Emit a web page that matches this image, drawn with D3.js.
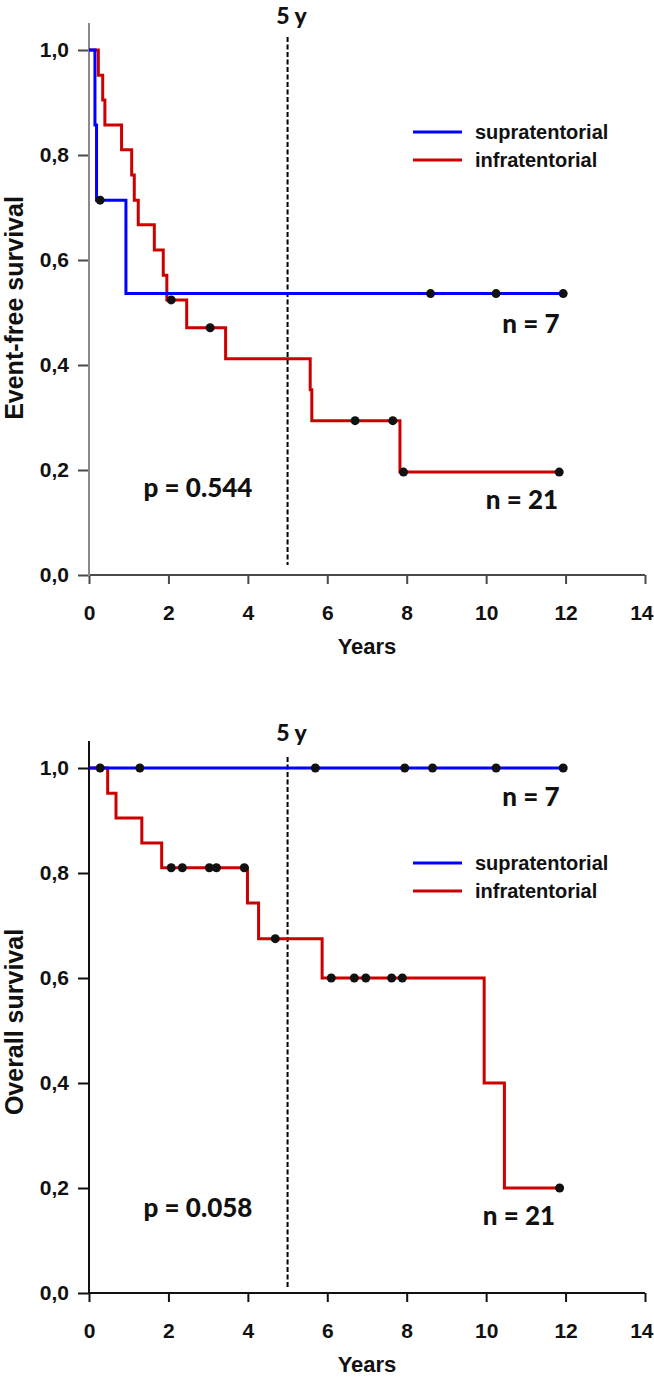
<!DOCTYPE html>
<html>
<head>
<meta charset="utf-8">
<script src="https://cdn.jsdelivr.net/npm/d3@7"></script>
<style>
  html, body { margin: 0; padding: 0; background: #fff; }
  svg { display: block; }
  text { font-family: "Liberation Sans", Arial, sans-serif; font-weight: bold; fill: #111; }
  .anno { font-family: Lato, "Open Sans", sans-serif; font-weight: 900; }
</style>
</head>
<body>
<script>
// ---------- data ----------
const xTickValues = [0, 2, 4, 6, 8, 10, 12, 14];
const xTickLabels = ["0", "2", "4", "6", "8", "10", "12", "14"];
const yTickValues = [0, 0.2, 0.4, 0.6, 0.8, 1.0];
const yTickLabels = ["0,0", "0,2", "0,4", "0,6", "0,8", "1,0"];
const seriesNames = ["supratentorial", "infratentorial"];

// Event-free survival, supratentorial (n = 7)
const efsSupraTime = [0, 0.15, 0.19, 0.93, 11.94];
const efsSupraSurv = [1.0, 0.857, 0.714, 0.536, 0.536];
const efsSupraCensTime = [0.28, 8.6, 10.25, 11.94];
const efsSupraCensSurv = [0.714, 0.536, 0.536, 0.536];

// Event-free survival, infratentorial (n = 21)
const efsInfraTime = [0, 0.235, 0.345, 0.40, 0.82, 1.075, 1.14, 1.24, 1.645, 1.87, 1.96, 2.46, 3.44, 5.57, 5.61, 7.83, 11.84];
const efsInfraSurv = [1.0, 0.952, 0.905, 0.857, 0.810, 0.762, 0.714, 0.667, 0.619, 0.571, 0.524, 0.471, 0.412, 0.353, 0.294, 0.196, 0.196];
const efsInfraCensTime = [2.07, 3.05, 6.70, 7.65, 7.92, 11.84];
const efsInfraCensSurv = [0.524, 0.471, 0.294, 0.294, 0.196, 0.196];

// Overall survival, supratentorial (n = 7)
const osSupraTime = [0, 11.94];
const osSupraSurv = [1.0, 1.0];
const osSupraCensTime = [0.28, 1.28, 5.7, 7.95, 8.65, 10.25, 11.94];
const osSupraCensSurv = [1, 1, 1, 1, 1, 1, 1];

// Overall survival, infratentorial (n = 21)
const osInfraTime = [0, 0.47, 0.68, 1.33, 1.83, 3.99, 4.27, 5.87, 9.95, 10.46, 11.85];
const osInfraSurv = [1.0, 0.952, 0.905, 0.857, 0.810, 0.743, 0.675, 0.600, 0.400, 0.200, 0.200];
const osInfraCensTime = [2.07, 2.35, 3.03, 3.21, 3.91, 4.69, 6.10, 6.68, 6.97, 7.62, 7.89, 11.85];
const osInfraCensSurv = [0.81, 0.81, 0.81, 0.81, 0.81, 0.675, 0.6, 0.6, 0.6, 0.6, 0.6, 0.2];

const panelTitles = ["Event-free survival", "Overall survival"];
const pValues = ["p = 0.544", "p = 0.058"];
const nLabels = ["n = 7", "n = 21"];
const refYear = 5;
const refLabel = "5 y";
const xTitle = "Years";

// ---------- drawing ----------
const W = 654, H = 1378;
const svg = d3.select("body").append("svg").attr("width", W).attr("height", H);

const colors = ["#0000ff", "#cc0000"];

const panels = [
  {
    top: 50, bottom: 575, axisColor: ["#8a8a8a", "#4a4a4a"],
    title: panelTitles[0], p: pValues[0],
    curves: [
      { t: efsSupraTime, s: efsSupraSurv, ct: efsSupraCensTime, cs: efsSupraCensSurv },
      { t: efsInfraTime, s: efsInfraSurv, ct: efsInfraCensTime, cs: efsInfraCensSurv }
    ],
    refTop: 37, refBottom: 565, refLabelY: 24,
    legendY: 132,
    pPos: [198, 497], n7Pos: [531, 333], n21Pos: [522, 509],
    titleY: 308
  },
  {
    top: 768, bottom: 1293, axisColor: ["#111", "#111"],
    title: panelTitles[1], p: pValues[1],
    curves: [
      { t: osSupraTime, s: osSupraSurv, ct: osSupraCensTime, cs: osSupraCensSurv },
      { t: osInfraTime, s: osInfraSurv, ct: osInfraCensTime, cs: osInfraCensSurv }
    ],
    refTop: 757, refBottom: 1287, refLabelY: 741,
    legendY: 863,
    pPos: [198, 1217], n7Pos: [531, 806], n21Pos: [519, 1225],
    titleY: 1022
  }
];

const x = d3.scaleLinear().domain([0, 14]).range([89, 645]);

panels.forEach(P => {
  const y = d3.scaleLinear().domain([0, 1]).range([P.bottom, P.top]);
  const g = svg.append("g");

  // axes
  const yAxis = d3.axisLeft(y).tickValues(yTickValues)
    .tickFormat((d, i) => yTickLabels[i]).tickSize(11).tickPadding(9).tickSizeOuter(0);
  const ya = g.append("g").attr("transform", `translate(${x(0)},0)`).call(yAxis);
  ya.select(".domain").remove();
  ya.selectAll(".tick line").attr("stroke", P.axisColor[1]).attr("stroke-width", 2);
  ya.selectAll(".tick text").style("font-size", "21px").attr("fill", "#111");

  const xAxis = d3.axisBottom(x).tickValues(xTickValues)
    .tickFormat((d, i) => xTickLabels[i]).tickSize(9).tickPadding(21).tickSizeOuter(0);
  const xa = g.append("g").attr("transform", `translate(0,${y(0)})`).call(xAxis);
  xa.select(".domain").remove();
  xa.selectAll(".tick line").attr("stroke", P.axisColor[1]).attr("stroke-width", 2);
  xa.selectAll(".tick text").style("font-size", "21px").attr("fill", "#111");
  // last label sits at the right edge: keep it inside the picture
  xa.selectAll(".tick text").filter((d, i, n) => i === n.length - 1)
    .attr("text-anchor", "end").attr("x", 653 - x(14));

  // axis lines
  g.append("line").attr("x1", x(0)).attr("x2", x(14))
    .attr("y1", y(0)).attr("y2", y(0))
    .attr("stroke", P.axisColor[1]).attr("stroke-width", 2);
  g.append("line").attr("x1", x(0)).attr("x2", x(0))
    .attr("y1", P.top - 27).attr("y2", y(0) + 1)
    .attr("stroke", P.axisColor[0]).attr("stroke-width", 2);

  // titles
  g.append("text").attr("transform", `translate(23,${P.titleY}) rotate(-90)`)
    .attr("text-anchor", "middle").style("font-size", "25px").text(P.title);
  g.append("text").attr("x", x(7)).attr("y", y(0) + 79)
    .attr("text-anchor", "middle").style("font-size", "22px").text(xTitle);

  // reference line at 5 y
  g.append("line").attr("x1", x(refYear)).attr("x2", x(refYear))
    .attr("y1", P.refTop).attr("y2", P.refBottom)
    .attr("stroke", "#000").attr("stroke-width", 2).attr("stroke-dasharray", "5,2.5");
  g.append("text").attr("class", "anno").attr("x", x(refYear) + 4).attr("y", P.refLabelY)
    .attr("text-anchor", "middle").style("font-size", "23px").text(refLabel);

  // curves (infratentorial below, supratentorial on top)
  const line = d3.line().x(d => x(d[0])).y(d => y(d[1])).curve(d3.curveStepAfter);
  [1, 0].forEach(k => {
    const c = P.curves[k];
    const pts = c.t.map((t, i) => [t, c.s[i]]);
    g.append("path").attr("d", line(pts)).attr("fill", "none")
      .attr("stroke", colors[k]).attr("stroke-width", 3);
  });
  [1, 0].forEach(k => {
    const c = P.curves[k];
    g.selectAll(null).data(c.ct.map((t, i) => [t, c.cs[i]])).enter()
      .append("circle").attr("cx", d => x(d[0])).attr("cy", d => y(d[1]))
      .attr("r", 4.5).attr("fill", "#111");
  });

  // legend
  seriesNames.forEach((nm, k) => {
    const ly = P.legendY + k * 28;
    g.append("line").attr("x1", 413).attr("x2", 462).attr("y1", ly).attr("y2", ly)
      .attr("stroke", colors[k]).attr("stroke-width", 3);
    g.append("text").attr("x", 475).attr("y", ly + 7).style("font-size", "20px").text(nm);
  });

  // annotations
  g.append("text").attr("class", "anno").attr("x", P.pPos[0]).attr("y", P.pPos[1])
    .attr("text-anchor", "middle").style("font-size", "26px").text(P.p);
  g.append("text").attr("class", "anno").attr("x", P.n7Pos[0]).attr("y", P.n7Pos[1])
    .attr("text-anchor", "middle").style("font-size", "26px").text(nLabels[0]);
  g.append("text").attr("class", "anno").attr("x", P.n21Pos[0]).attr("y", P.n21Pos[1])
    .attr("text-anchor", "middle").style("font-size", "26px").text(nLabels[1]);
});
</script>
</body>
</html>
